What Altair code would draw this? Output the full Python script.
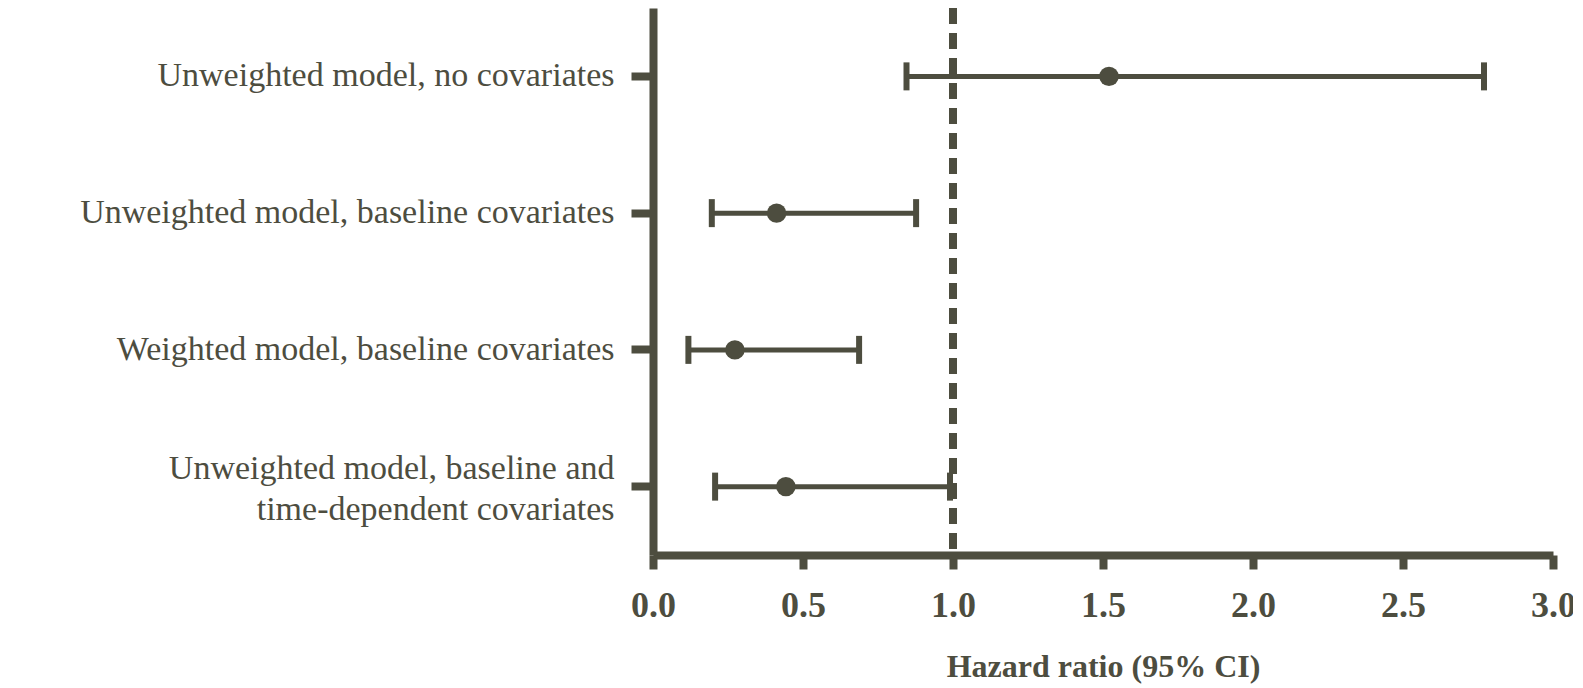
import altair as alt
import pandas as pd

models = [
    "Unweighted model, no covariates",
    "Unweighted model, baseline covariates",
    "Weighted model, baseline covariates",
    "Unweighted model, baseline and|time-dependent covariates",
]
hr = [1.52, 0.412, 0.273, 0.443]
ci_low = [0.845, 0.196, 0.118, 0.207]
ci_high = [2.77, 0.877, 0.687, 0.99]
x_ticks = [0.0, 0.5, 1.0, 1.5, 2.0, 2.5, 3.0]
ref_value = [1.0]

COLOR = "#4d4d3f"

df = pd.DataFrame({"model": models, "hr": hr, "low": ci_low, "high": ci_high})
ref = pd.DataFrame({"x": ref_value})

xscale = alt.Scale(domain=[0, 3], nice=False, zero=False)
yscale = alt.Scale(domain=models, paddingInner=0, paddingOuter=0)

x_axis = alt.Axis(
    values=x_ticks, format=".1f", title="Hazard ratio (95%  CI)",
    labelFont="Liberation Serif", labelFontSize=36, labelFontWeight="bold",
    labelColor=COLOR, labelPadding=19, labelFlush=False,
    titleFont="Liberation Serif", titleFontSize=32, titleFontWeight="bold",
    titleColor=COLOR, titlePadding=28,
    domainColor=COLOR, domainWidth=8, tickColor=COLOR, tickWidth=8, tickSize=14,
    grid=False,
)
y_axis = alt.Axis(
    title=None, labelExpr="split(datum.label, '|')",
    labelFont="Liberation Serif", labelFontSize=34, labelColor=COLOR,
    labelPadding=17, labelLimit=2000, labelLineHeight=41,
    labelOffset={"condition": {"test": "indexof(datum.value, '|') >= 0", "value": -18}, "value": 0},
    domainColor=COLOR, domainWidth=8, tickColor=COLOR, tickWidth=8, tickSize=22,
    grid=False,
)

base = alt.Chart(df)

ci = base.mark_rule(color=COLOR, strokeWidth=5).encode(
    x=alt.X("low:Q", scale=xscale, axis=x_axis),
    x2="high:Q",
    y=alt.Y("model:N", scale=yscale, axis=y_axis, sort=models),
)
cap_low = base.mark_tick(color=COLOR, thickness=6, size=28, opacity=1).encode(
    x=alt.X("low:Q", scale=xscale),
    y=alt.Y("model:N", scale=yscale, sort=models),
)
cap_high = base.mark_tick(color=COLOR, thickness=6, size=28, opacity=1).encode(
    x=alt.X("high:Q", scale=xscale),
    y=alt.Y("model:N", scale=yscale, sort=models),
)
pts = base.mark_circle(color=COLOR, size=380, opacity=1).encode(
    x=alt.X("hr:Q", scale=xscale),
    y=alt.Y("model:N", scale=yscale, sort=models),
)
ref_line = alt.Chart(ref).mark_rule(color=COLOR, strokeWidth=8, strokeDash=[16, 9]).encode(
    x=alt.X("x:Q", scale=xscale)
)

chart = alt.layer(ref_line, ci, cap_low, cap_high, pts).properties(
    width=900, height=547,
    background="white",
    autosize=alt.AutoSizeParams(type="none"),
    padding={"left": 645, "top": 0, "right": 20, "bottom": 130},
).configure_view(strokeWidth=0, stroke="transparent")

chart.save("out.html", embed_options={"renderer": "svg", "actions": False})
